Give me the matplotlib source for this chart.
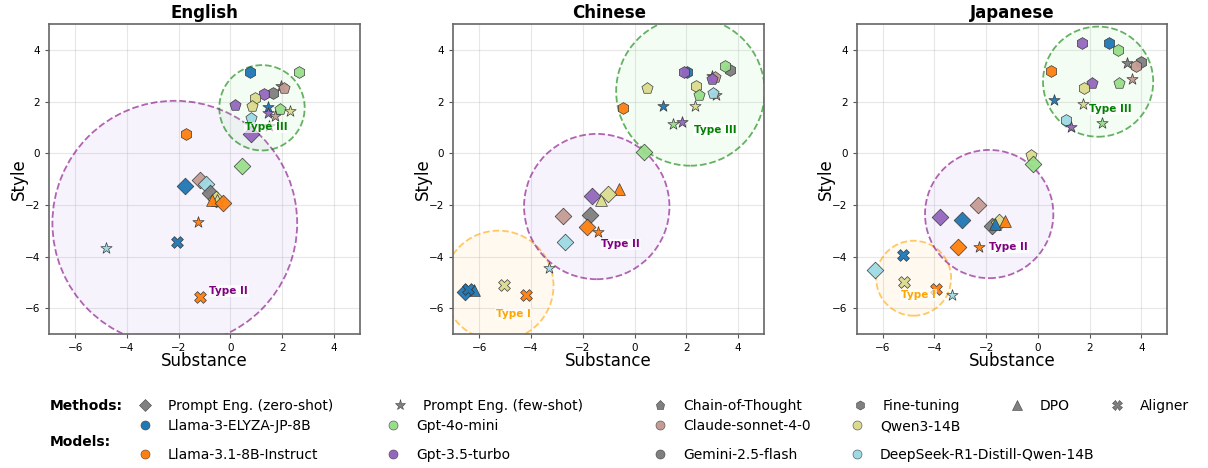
import matplotlib
matplotlib.use('Agg')
import matplotlib.pyplot as plt
from matplotlib.lines import Line2D
from matplotlib.patches import Circle

# models / colours
models = ["Llama-3-ELYZA-JP-8B", "Llama-3.1-8B-Instruct", "Gpt-4o-mini", "Gpt-3.5-turbo",
          "Claude-sonnet-4-0", "Gemini-2.5-flash", "Qwen3-14B", "DeepSeek-R1-Distill-Qwen-14B"]
model_keys = ["elyza", "llama", "4o", "35", "claude", "gemini", "qwen", "ds"]
model_colors = ["#1f77b4", "#ff7f0e", "#98df8a", "#9467bd", "#c49c94", "#7f7f7f", "#dbdb8d", "#9edae5"]

# methods / markers
methods = ["Prompt Eng. (zero-shot)", "Prompt Eng. (few-shot)", "Chain-of-Thought",
           "Fine-tuning", "DPO", "Aligner"]
method_keys = ["zs", "fs", "cot", "ft", "dpo", "al"]
method_markers = ["D", "*", "p", "h", "^", "X"]

languages = ["English", "Chinese", "Japanese"]

# (model, method, substance, style)
english_points = [
    ("elyza", "ft", 0.77, 3.13), ("4o", "ft", 2.65, 3.16), ("gemini", "fs", 1.97, 2.60),
    ("claude", "cot", 2.06, 2.51), ("gemini", "ft", 1.65, 2.32), ("35", "ft", 1.29, 2.29),
    ("qwen", "ft", 0.94, 2.13), ("qwen", "cot", 0.85, 1.83), ("35", "cot", 0.19, 1.86),
    ("elyza", "fs", 1.47, 1.80), ("35", "fs", 1.47, 1.55), ("claude", "fs", 1.73, 1.44),
    ("4o", "cot", 1.91, 1.73), ("qwen", "fs", 2.31, 1.65), ("ds", "cot", 0.80, 1.35),
    ("4o", "fs", 1.48, 1.06), ("35", "zs", 0.80, 0.75), ("llama", "ft", -1.73, 0.75),
    ("4o", "zs", 0.46, -0.49), ("elyza", "zs", -1.74, -1.25), ("claude", "zs", -1.19, -1.03),
    ("ds", "zs", -0.93, -1.19), ("gemini", "zs", -0.80, -1.55), ("qwen", "zs", -0.55, -1.75),
    ("qwen", "dpo", -0.50, -1.80), ("llama", "dpo", -0.71, -1.81), ("llama", "zs", -0.29, -1.93),
    ("llama", "fs", -1.25, -2.65), ("elyza", "al", -2.07, -3.44), ("ds", "fs", -4.82, -3.65),
    ("llama", "al", -1.19, -5.55),
]
chinese_points = [
    ("gemini", "ft", 3.68, 3.22), ("4o", "ft", 3.51, 3.39), ("elyza", "ft", 2.02, 3.16),
    ("35", "ft", 1.90, 3.16), ("gemini", "fs", 3.00, 3.00), ("claude", "cot", 3.12, 2.94),
    ("35", "cot", 3.01, 2.89), ("qwen", "cot", 0.48, 2.54), ("qwen", "ft", 2.36, 2.60),
    ("4o", "cot", 2.49, 2.26), ("claude", "fs", 3.16, 2.26), ("ds", "cot", 3.04, 2.35),
    ("llama", "ft", -0.46, 1.76), ("elyza", "fs", 1.11, 1.83), ("qwen", "fs", 2.32, 1.83),
    ("4o", "fs", 1.47, 1.13), ("35", "fs", 1.83, 1.20), ("4o", "zs", 0.35, 0.04),
    ("llama", "dpo", -0.59, -1.38), ("qwen", "dpo", -1.29, -1.81), ("qwen", "zs", -1.01, -1.57),
    ("35", "zs", -1.65, -1.65), ("claude", "zs", -2.75, -2.43), ("gemini", "zs", -1.71, -2.39),
    ("llama", "zs", -1.82, -2.86), ("llama", "fs", -1.43, -3.06), ("ds", "zs", -2.67, -3.44),
    ("ds", "fs", -3.30, -4.42), ("qwen", "al", -5.04, -5.11), ("llama", "al", -4.19, -5.48),
    ("elyza", "dpo", -6.19, -5.29), ("elyza", "zs", -6.55, -5.38), ("elyza", "al", -6.42, -5.24),
]
japanese_points = [
    ("35", "ft", 1.72, 4.28), ("elyza", "ft", 2.75, 4.25), ("4o", "ft", 3.11, 4.00),
    ("gemini", "fs", 3.46, 3.50), ("gemini", "ft", 3.99, 3.53), ("claude", "ft", 3.79, 3.38),
    ("llama", "ft", 0.51, 3.18), ("35", "cot", 2.11, 2.73), ("4o", "cot", 3.13, 2.73),
    ("claude", "fs", 3.63, 2.87), ("qwen", "ft", 1.80, 2.51), ("elyza", "fs", 0.62, 2.05),
    ("qwen", "fs", 1.74, 1.91), ("ds", "ft", 1.08, 1.29), ("35", "fs", 1.29, 1.03),
    ("4o", "fs", 2.48, 1.17), ("qwen", "cot", -0.25, -0.07), ("4o", "zs", -0.19, -0.41),
    ("claude", "zs", -2.32, -2.00), ("35", "zs", -3.77, -2.45), ("elyza", "zs", -2.92, -2.58),
    ("gemini", "zs", -1.78, -2.80), ("qwen", "zs", -1.51, -2.64), ("elyza", "dpo", -1.65, -2.73),
    ("llama", "dpo", -1.26, -2.60), ("llama", "zs", -3.09, -3.62), ("llama", "fs", -2.28, -3.63),
    ("elyza", "al", -5.21, -3.93), ("ds", "zs", -6.28, -4.51), ("qwen", "al", -5.19, -4.97),
    ("llama", "al", -3.93, -5.26), ("ds", "fs", -3.30, -5.48),
]

# cluster circles: (type, centre x, centre y, radius, label x, label y)
english_clusters = [("Type II", -2.15, -2.70, 4.73, -0.07, -5.33),
                    ("Type III", 1.22, 1.76, 1.65, 1.37, 1.00)]
chinese_clusters = [("Type I", -5.26, -5.12, 2.13, -4.68, -6.22),
                    ("Type II", -1.46, -2.06, 2.81, -0.53, -3.52),
                    ("Type III", 2.16, 2.39, 2.87, 3.13, 0.90)]
japanese_clusters = [("Type I", -4.80, -4.83, 1.45, -4.61, -5.48),
                     ("Type II", -1.88, -2.35, 2.48, -1.12, -3.62),
                     ("Type III", 2.33, 2.77, 2.13, 2.79, 1.70)]

cluster_fill = {"Type I": ("orange", 0.06), "Type II": ("mediumpurple", 0.08),
                "Type III": ("lightgreen", 0.1)}
cluster_text = {"Type I": "#ffa500", "Type II": "purple", "Type III": "green"}
cluster_edges = {"Type I": "orange", "Type II": "purple", "Type III": "green"}

all_points = [english_points, chinese_points, japanese_points]
all_clusters = [english_clusters, chinese_clusters, japanese_clusters]

W, H = 1208, 468
fig = plt.figure(figsize=(W / 100, H / 100), dpi=100)
axes_left = [49.3, 453.4, 856.7]

for i, lang in enumerate(languages):
    ax = fig.add_axes([axes_left[i] / W, (H - 334.3) / H, 310.5 / W, 310.3 / H])
    for name, cx, cy, r, lx, ly in all_clusters[i]:
        fill, a = cluster_fill[name]
        ax.add_patch(Circle((cx, cy), r, facecolor=fill, alpha=a, edgecolor='none', zorder=1))
        ax.add_patch(Circle((cx, cy), r, facecolor='none', edgecolor=cluster_edges[name],
                            alpha=0.6, linestyle='--', linewidth=1.3, zorder=1))
    for mk, me, x, y in all_points[i]:
        c = model_colors[model_keys.index(mk)]
        m = method_markers[method_keys.index(me)]
        ax.scatter(x, y, s=72, c=c, marker=m, edgecolors='#333333', linewidths=0.5,
                   alpha=0.95, zorder=3)
    for name, cx, cy, r, lx, ly in all_clusters[i]:
        ax.text(lx, ly, name, color=cluster_text[name], fontsize=7.5, fontweight='bold',
                ha='center', va='center', zorder=4,
                bbox=dict(facecolor='white', edgecolor='none', alpha=0.7, pad=0.5))
    ax.set_xlim(-7, 5)
    ax.set_ylim(-7, 5)
    ax.set_xticks([-6, -4, -2, 0, 2, 4])
    ax.set_yticks([-6, -4, -2, 0, 2, 4])
    ax.tick_params(labelsize=7.5, length=3, color='#555555')
    ax.grid(True, alpha=0.3)
    ax.set_axisbelow(True)
    for sp in ax.spines.values():
        sp.set_color('#666666')
        sp.set_linewidth(1.2)
    ax.set_title(lang, fontsize=12, fontweight='bold', pad=4)
    ax.set_xlabel("Substance", fontsize=12, labelpad=-1)
    ax.set_ylabel("Style", fontsize=12, labelpad=-2)

# legends, one per column so they line up like the original
def column_legend(handles, labels, hx, top):
    fig.legend(handles, labels, loc='upper left', bbox_to_anchor=((hx - 7) / W, 1 - top / H),
               frameon=False, fontsize=10, handlelength=1.0, handletextpad=1.15,
               borderpad=0, borderaxespad=0, labelspacing=1.05)

method_x = [145, 400, 660, 860, 1017, 1117]
for j, lab in enumerate(methods):
    h = Line2D([], [], linestyle='none', marker=method_markers[j],
               markersize=6.5 if method_markers[j] != '*' else 8,
               markerfacecolor='#808080', markeredgecolor='#444444', markeredgewidth=0.4)
    column_legend([h], [lab], method_x[j], 399)

model_x = [145, 393, 660, 857]
for j in range(4):
    hs, ls = [], []
    for k in (2 * j, 2 * j + 1):
        hs.append(Line2D([], [], linestyle='none', marker='o', markersize=6.5,
                         markerfacecolor=model_colors[k], markeredgecolor='#444444',
                         markeredgewidth=0.4))
        ls.append(models[k])
    column_legend(hs, ls, model_x[j], 419)

fig.text(50 / W, 1 - 406 / H, "Methods:", fontsize=10, fontweight='bold', va='center')
fig.text(50 / W, 1 - 442 / H, "Models:", fontsize=10, fontweight='bold', va='center')

fig.savefig("out.png", dpi=100)
